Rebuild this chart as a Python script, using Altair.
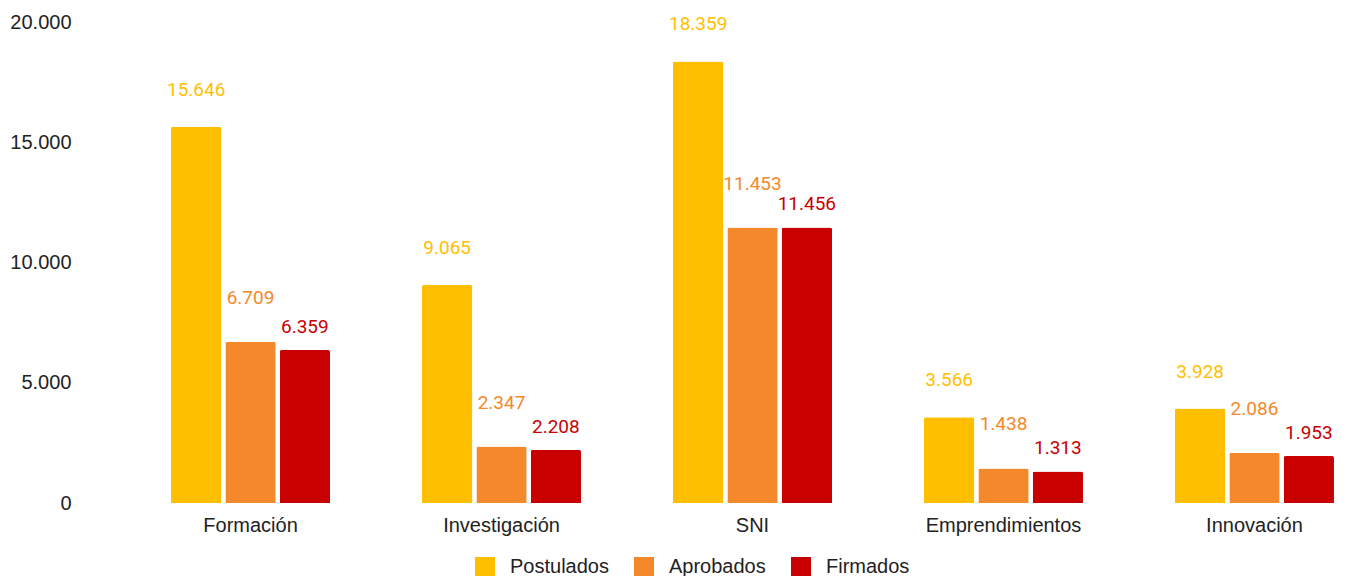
import altair as alt
import pandas as pd

categories = ["Formación", "Investigación", "SNI", "Emprendimientos", "Innovación"]
series = ["Postulados", "Aprobados", "Firmados"]
postulados = [15646, 9065, 18359, 3566, 3928]
aprobados = [6709, 2347, 11453, 1438, 2086]
firmados = [6359, 2208, 11456, 1313, 1953]
colors = ["#FFBF00", "#F4892B", "#C80000"]
label_dy = {"Postulados": -31, "Aprobados": -38, "Firmados": -17}

rows = []
for i, c in enumerate(categories):
    for s, vals in zip(series, [postulados, aprobados, firmados]):
        rows.append({"cat": c, "serie": s, "val": vals[i]})
df = pd.DataFrame(rows)

x = alt.X("cat:N", sort=categories, title=None,
          scale=alt.Scale(paddingInner=0.3665, paddingOuter=0.02),
          axis=alt.Axis(labelAngle=0, domain=False, ticks=False, labelPadding=12,
                        labelFont="Liberation Sans", labelFontSize=20, labelColor="#222222"))
xo = alt.XOffset("serie:N", sort=series, scale=alt.Scale(paddingInner=0.074, paddingOuter=0))
y = alt.Y("val:Q", title=None, scale=alt.Scale(domain=[0, 20000], nice=False),
          axis=alt.Axis(values=[0, 5000, 10000, 15000, 20000], grid=False, domain=False, ticks=False,
                        labelPadding=95, labelFont="Liberation Sans", labelFontSize=20,
                        labelColor="#222222",
                        labelExpr="replace(format(datum.value, ','), ',', '.')"))
color_scale = alt.Scale(domain=series, range=colors)

bars = alt.Chart(df).mark_bar(cornerRadiusTopLeft=2, cornerRadiusTopRight=2).encode(
    x=x, xOffset=xo, y=y,
    color=alt.Color("serie:N", sort=series, scale=color_scale, title=None,
                    legend=alt.Legend(orient="none", legendX=309, legendY=535, direction="horizontal",
                                      symbolType="square", symbolSize=400, symbolStrokeWidth=0,
                                      symbolOpacity=1, labelFont="Liberation Sans", labelFontSize=20,
                                      labelColor="#222222", labelOffset=15, columnPadding=25,
                                      padding=0))
)

text_layers = []
for s in series:
    text_layers.append(
        alt.Chart(df).transform_filter(alt.datum.serie == s).transform_calculate(
            lbl="replace(format(datum.val, ','), ',', '.')"
        ).mark_text(dy=label_dy[s], baseline="alphabetic", align="center", font="Roboto", fontSize=19).encode(
            x=x, xOffset=xo, y=y,
            text="lbl:N",
            color=alt.Color("serie:N", sort=series, scale=color_scale, legend=None)
        )
    )

chart = alt.layer(bars, *text_layers).properties(
    width=1173, height=481,
    autosize=alt.AutoSizeParams(type="none"),
    padding={"left": 158, "top": 14, "right": 1, "bottom": 73}
).configure_view(stroke=None)

chart.save("out.html", embed_options={"renderer": "svg", "actions": False})
